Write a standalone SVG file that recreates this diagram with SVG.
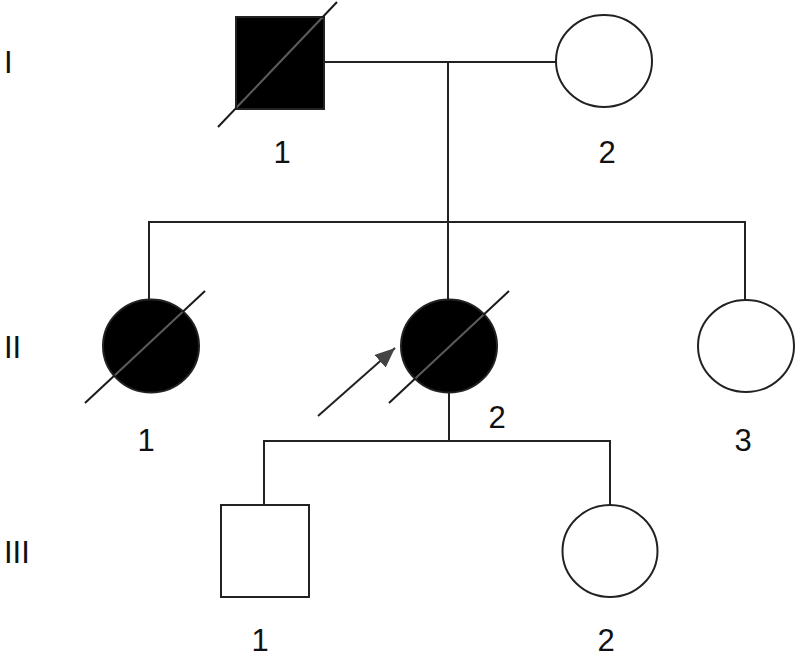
<svg xmlns="http://www.w3.org/2000/svg" width="800" height="657" viewBox="0 0 800 657">
<style>
.ln{stroke:#222;stroke-width:2;fill:none}
.sh{stroke:#222;stroke-width:2}
.aff{fill:#000}
.un{fill:#fff}
.dg{stroke:#1a1a1a;stroke-width:2}
.di{stroke:#5a5a5a;stroke-width:2}
.t{font-family:"Liberation Sans",Arial,sans-serif;font-size:31px;fill:#111}
</style>
<defs>
<marker id="ah" viewBox="0 0 10 10" refX="10" refY="5" markerWidth="10" markerHeight="8.5" markerUnits="strokeWidth" orient="auto" preserveAspectRatio="none">
<path d="M0,0 L10,5 L0,10 z" fill="#444"/>
</marker>
<clipPath id="c1"><rect x="237" y="18" width="86" height="90"/></clipPath>
<clipPath id="c2"><ellipse cx="151" cy="346" rx="47" ry="45.5"/></clipPath>
<clipPath id="c3"><ellipse cx="449" cy="346" rx="47" ry="45.5"/></clipPath>
</defs>
<rect width="800" height="657" fill="#fff"/>
<g id="connectors">
<line class="ln" x1="324" y1="62" x2="556" y2="62"/>
<line class="ln" x1="448" y1="62" x2="448" y2="300"/>
<polyline class="ln" points="149,300 149,222 745,222 745,300"/>
<line class="ln" x1="449" y1="393" x2="449" y2="441"/>
<polyline class="ln" points="264,505 264,441 610,441 610,505"/>
</g>
<g id="gen-labels">
<text class="t" x="4" y="73">I</text>
<text class="t" x="4" y="358">II</text>
<text class="t" x="4" y="563">III</text>
</g>
<g id="I-1">
<rect class="sh aff" x="236" y="17" width="88" height="92"/>
<line class="dg" x1="218" y1="127" x2="337" y2="2"/>
<line class="di" x1="218" y1="127" x2="337" y2="2" clip-path="url(#c1)"/>
<text class="t" x="282" y="163" text-anchor="middle">1</text>
</g>
<g id="I-2">
<ellipse class="sh un" cx="604" cy="61" rx="48" ry="46"/>
<text class="t" x="607" y="163" text-anchor="middle">2</text>
</g>
<g id="II-1">
<ellipse class="sh aff" cx="151" cy="346" rx="48" ry="46.5"/>
<line class="dg" x1="85" y1="403" x2="205" y2="291"/>
<line class="di" x1="85" y1="403" x2="205" y2="291" clip-path="url(#c2)"/>
<text class="t" x="146" y="451" text-anchor="middle">1</text>
</g>
<g id="II-2">
<ellipse class="sh aff" cx="449" cy="346" rx="48" ry="46.5"/>
<line class="dg" x1="389" y1="403" x2="509" y2="291"/>
<line class="di" x1="389" y1="403" x2="509" y2="291" clip-path="url(#c3)"/>
<line class="ln" x1="318" y1="416" x2="395" y2="348" marker-end="url(#ah)"/>
<text class="t" x="497" y="428" text-anchor="middle">2</text>
</g>
<g id="II-3">
<ellipse class="sh un" cx="746" cy="346" rx="48" ry="46"/>
<text class="t" x="743" y="451" text-anchor="middle">3</text>
</g>
<g id="III-1">
<rect class="sh un" x="221" y="505" width="88" height="92"/>
<text class="t" x="260" y="651" text-anchor="middle">1</text>
</g>
<g id="III-2">
<ellipse class="sh un" cx="610" cy="551" rx="47.5" ry="46"/>
<text class="t" x="606" y="651" text-anchor="middle">2</text>
</g>
</svg>
